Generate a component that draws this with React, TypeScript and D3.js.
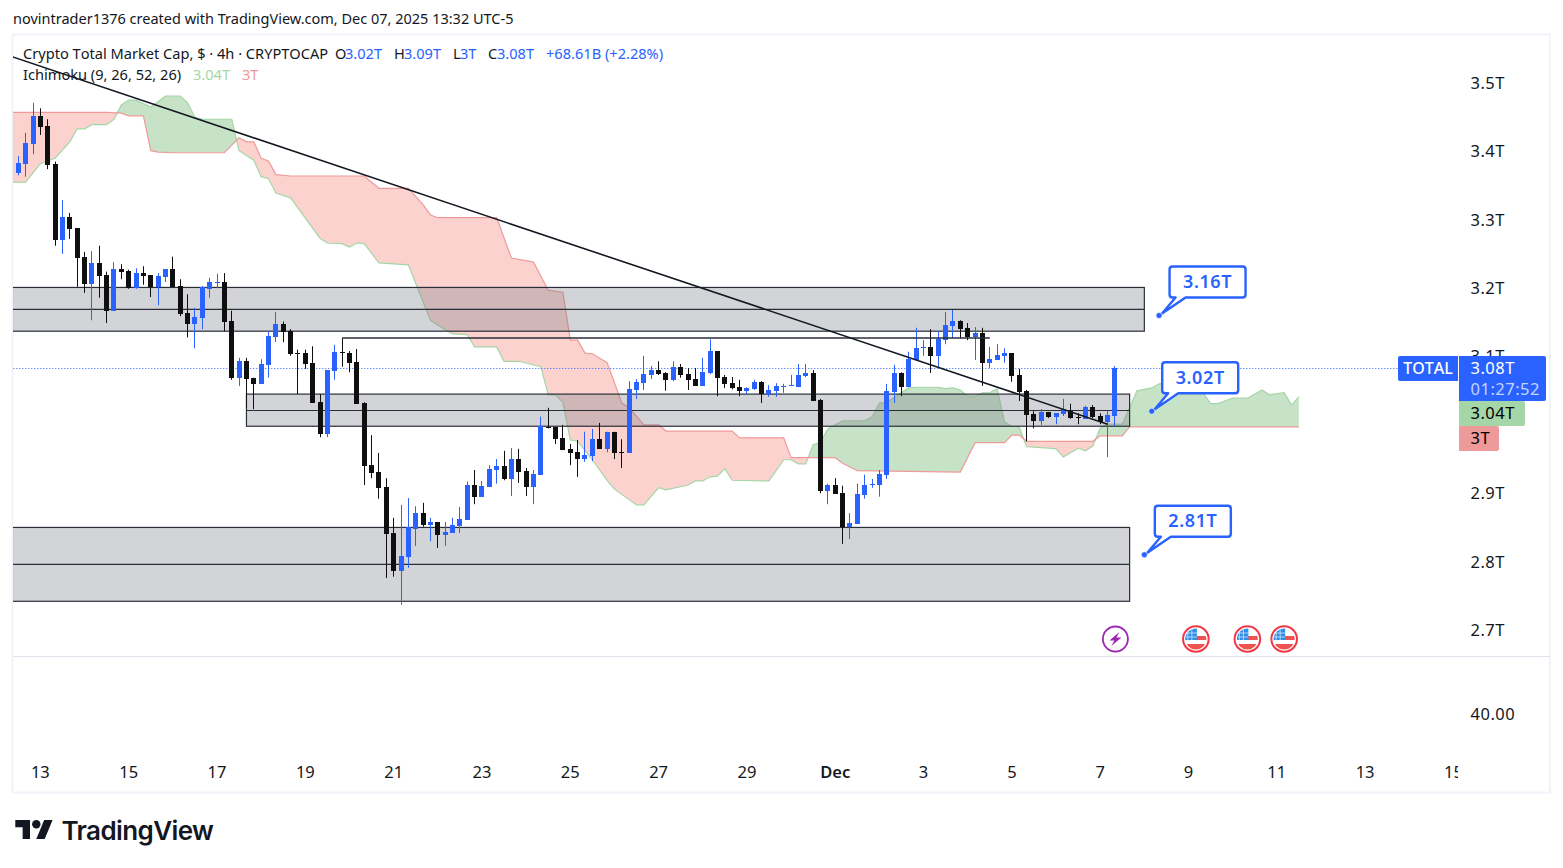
import { line as d3line, scaleLinear } from "d3";

const opens = [
  3.369, 3.382, 3.411, 3.452, 3.437, 3.382, 3.27, 3.304, 3.288, 3.246,
  3.206, 3.237, 3.219, 3.167, 3.228, 3.225, 3.2, 3.222, 3.219, 3.202,
  3.216, 3.228, 3.203, 3.164, 3.148, 3.156, 3.199, 3.208, 3.209, 3.152,
  3.069, 3.093, 3.069, 3.06, 3.088, 3.128, 3.148, 3.137, 3.105, 3.105,
  3.091, 3.033, 2.987, 3.079, 3.107, 3.105, 3.092, 3.032, 2.941, 2.931,
  2.909, 2.842, 2.786, 2.807, 2.848, 2.871, 2.854, 2.858, 2.839, 2.842,
  2.852, 2.861, 2.912, 2.895, 2.909, 2.934, 2.94, 2.921, 2.95, 2.933,
  2.909, 2.927, 2.997, 2.997, 2.981, 2.965, 2.96, 2.95, 2.954, 2.979,
  2.965, 2.99, 2.96, 2.959, 3.051, 3.061, 3.073, 3.08, 3.076, 3.066,
  3.085, 3.074, 3.067, 3.057, 3.076, 3.108, 3.07, 3.061, 3.055, 3.05,
  3.052, 3.063, 3.045, 3.05, 3.055, 3.057, 3.055, 3.072, 3.076, 3.036,
  2.903, 2.912, 2.9, 2.851, 2.855, 2.898, 2.912, 2.912, 2.927, 3.048,
  3.076, 3.055, 3.095, 3.112, 3.114, 3.101, 3.124, 3.145, 3.152, 3.142,
  3.128, 3.134, 3.091, 3.095, 3.101, 3.105, 3.073, 3.05, 3.016, 3.006,
  3.019, 3.012, 3.016, 3.02, 3.012, 3.009, 3.026, 3.013, 3.004, 3.013,
];
const closes = [
  3.383, 3.412, 3.452, 3.436, 3.38, 3.27, 3.304, 3.286, 3.244, 3.206,
  3.237, 3.218, 3.167, 3.228, 3.224, 3.2, 3.222, 3.218, 3.202, 3.218,
  3.228, 3.202, 3.162, 3.148, 3.158, 3.202, 3.209, 3.209, 3.151, 3.069,
  3.093, 3.067, 3.06, 3.089, 3.13, 3.148, 3.136, 3.104, 3.104, 3.089,
  3.032, 2.987, 3.08, 3.107, 3.105, 3.091, 3.031, 2.94, 2.93, 2.908,
  2.84, 2.786, 2.808, 2.851, 2.871, 2.854, 2.858, 2.839, 2.843, 2.854,
  2.862, 2.912, 2.895, 2.911, 2.935, 2.94, 2.921, 2.95, 2.931, 2.909,
  2.928, 2.998, 2.995, 2.979, 2.963, 2.959, 2.95, 2.956, 2.979, 2.965,
  2.99, 2.959, 2.959, 3.052, 3.063, 3.074, 3.08, 3.074, 3.066, 3.085,
  3.073, 3.066, 3.057, 3.077, 3.108, 3.069, 3.06, 3.054, 3.05, 3.054,
  3.063, 3.045, 3.051, 3.057, 3.057, 3.058, 3.073, 3.076, 3.035, 2.903,
  2.912, 2.899, 2.851, 2.856, 2.899, 2.912, 2.914, 2.928, 3.05, 3.076,
  3.055, 3.096, 3.112, 3.114, 3.101, 3.126, 3.146, 3.152, 3.14, 3.128,
  3.134, 3.091, 3.096, 3.102, 3.105, 3.072, 3.048, 3.014, 3.006, 3.019,
  3.012, 3.017, 3.023, 3.01, 3.01, 3.026, 3.012, 3.004, 3.014, 3.083,
];
const highs = [
  3.393, 3.427, 3.471, 3.463, 3.447, 3.385, 3.329, 3.31, 3.288, 3.253,
  3.254, 3.262, 3.224, 3.238, 3.235, 3.227, 3.229, 3.232, 3.219, 3.222,
  3.228, 3.246, 3.213, 3.191, 3.171, 3.203, 3.215, 3.221, 3.222, 3.167,
  3.098, 3.098, 3.069, 3.096, 3.137, 3.165, 3.151, 3.14, 3.11, 3.11,
  3.115, 3.045, 3.08, 3.117, 3.127, 3.108, 3.111, 3.033, 2.985, 2.959,
  2.922, 2.864, 2.883, 2.893, 2.881, 2.886, 2.864, 2.858, 2.858, 2.864,
  2.88, 2.917, 2.934, 2.918, 2.941, 2.95, 2.962, 2.966, 2.965, 2.937,
  2.934, 3.012, 3.025, 2.997, 3.0, 2.972, 2.978, 2.99, 2.994, 3.003,
  2.99, 2.99, 2.979, 3.064, 3.067, 3.101, 3.086, 3.093, 3.077, 3.093,
  3.089, 3.083, 3.083, 3.098, 3.125, 3.108, 3.073, 3.07, 3.066, 3.055,
  3.066, 3.064, 3.058, 3.061, 3.06, 3.073, 3.089, 3.089, 3.08, 3.038,
  2.914, 2.922, 2.911, 2.871, 2.914, 2.927, 2.921, 2.934, 3.06, 3.088,
  3.077, 3.107, 3.142, 3.124, 3.14, 3.137, 3.165, 3.168, 3.153, 3.149,
  3.143, 3.142, 3.114, 3.118, 3.112, 3.105, 3.082, 3.051, 3.02, 3.023,
  3.019, 3.017, 3.038, 3.031, 3.017, 3.028, 3.029, 3.017, 3.02, 3.086,
];
const lows = [
  3.365, 3.363, 3.396, 3.424, 3.374, 3.262, 3.25, 3.272, 3.202, 3.193,
  3.153, 3.186, 3.149, 3.167, 3.213, 3.199, 3.199, 3.205, 3.187, 3.175,
  3.209, 3.202, 3.159, 3.128, 3.112, 3.14, 3.186, 3.2, 3.137, 3.066,
  3.057, 3.025, 3.023, 3.06, 3.069, 3.121, 3.121, 3.101, 3.045, 3.082,
  3.032, 2.982, 2.982, 3.066, 3.085, 3.077, 3.031, 2.912, 2.922, 2.892,
  2.776, 2.778, 2.737, 2.791, 2.823, 2.851, 2.83, 2.82, 2.823, 2.842,
  2.842, 2.861, 2.884, 2.895, 2.909, 2.914, 2.919, 2.896, 2.915, 2.896,
  2.884, 2.927, 2.995, 2.972, 2.963, 2.941, 2.924, 2.946, 2.947, 2.965,
  2.96, 2.95, 2.937, 2.959, 3.038, 3.051, 3.067, 3.073, 3.05, 3.064,
  3.069, 3.051, 3.057, 3.057, 3.074, 3.042, 3.054, 3.052, 3.042, 3.045,
  3.051, 3.032, 3.041, 3.041, 3.047, 3.057, 3.055, 3.07, 3.035, 2.9,
  2.884, 2.899, 2.826, 2.833, 2.855, 2.892, 2.908, 2.895, 2.921, 3.032,
  3.042, 3.055, 3.095, 3.101, 3.076, 3.083, 3.118, 3.127, 3.127, 3.124,
  3.095, 3.057, 3.083, 3.095, 3.091, 3.063, 3.035, 2.976, 2.995, 3.0,
  3.01, 3.001, 3.013, 3.009, 3.001, 3.009, 3.01, 3.001, 2.953, 2.998,
];

// ichimoku spans, only the bars where the line changes direction
const leadABars = [
  -1, 1, 3, 5, 7, 8, 9, 10, 12, 13, 14, 15, 16, 18, 20, 22, 23, 24, 25, 29, 30, 32, 33, 34, 35, 37, 41, 42, 44, 45,
  46, 47, 49, 53, 56, 58, 59, 61, 62, 65, 66, 68, 71, 72, 73, 74, 75, 76, 78, 80, 81, 84, 85, 87, 88, 91, 92, 93,
  94, 95, 96, 97, 102, 104, 105, 106, 107, 108, 109, 110, 112, 115, 116, 117, 118, 121, 122, 125, 126, 127, 128,
  129, 130, 131, 132, 133, 134, 135, 136, 137, 140, 141, 142, 144, 145, 146, 147, 148, 150, 152, 154, 155, 157,
  160, 161, 162, 163, 165, 167, 169, 170, 172, 173, 174,
];
const leadA = [
  3.355, 3.355, 3.382, 3.39, 3.414, 3.433, 3.433, 3.439, 3.439, 3.447, 3.468, 3.475, 3.475, 3.465, 3.481, 3.481, 3.471, 3.45, 3.447, 3.447, 3.401, 3.387, 3.363, 3.36, 3.339, 3.332, 3.273, 3.266, 3.265, 3.26,
  3.266, 3.265, 3.237, 3.234, 3.153, 3.139, 3.133, 3.132, 3.114, 3.114, 3.093, 3.093, 3.085, 3.044, 3.044, 3.033, 2.978, 2.976, 2.949, 2.919, 2.906, 2.883, 2.883, 2.908, 2.905, 2.912, 2.918, 2.918,
  2.924, 2.925, 2.936, 2.919, 2.918, 2.949, 2.949, 2.943, 2.943, 2.971, 2.975, 2.994, 3.006, 3.006, 3.012, 3.032, 3.033, 3.054, 3.055, 3.055, 3.053, 3.054, 3.051,
  3.042, 3.042, 3.047, 3.047, 3.053, 3.004, 2.998, 2.997, 2.968, 2.966, 2.965, 2.953, 2.966, 2.962, 2.969, 2.995, 3.001, 3.001, 3.05, 3.054, 3.06, 3.063,
  3.048, 3.047, 3.031, 3.031, 3.039, 3.039, 3.051, 3.044, 3.047, 3.029, 3.041,
];
const leadBBars = [
  -1, 12, 14, 15, 17, 18, 19, 21, 28, 30, 31, 32, 33, 34, 35, 37, 47, 49, 53, 55, 56, 57, 65, 67, 70, 72, 74, 75, 76,
  77, 78, 80, 82, 83, 85, 87, 88, 97, 98, 104, 105, 111, 112, 114, 128, 130, 134, 135, 136, 137, 146, 147, 150, 151, 174,
];
const leadB = [
  3.457, 3.457, 3.456, 3.452, 3.452, 3.401, 3.399, 3.398, 3.398, 3.42, 3.414, 3.414, 3.39, 3.386, 3.366, 3.364, 3.364, 3.346, 3.346, 3.322, 3.307, 3.303, 3.303, 3.244, 3.238, 3.197, 3.194, 3.124, 3.124,
  3.105, 3.104, 3.091, 3.032, 3.025, 3.0, 3.0, 2.991, 2.991, 2.981, 2.981, 2.952, 2.952, 2.944, 2.933, 2.931, 2.974, 2.974, 2.985, 2.985, 2.976, 2.976, 2.984, 2.984, 2.997, 2.997,
];

// rectangles drawn on the chart: top, middle, bottom price and bar span
const zoneTops = [3.201, 3.045, 2.85];
const zoneMids = [3.169, 3.021, 2.796];
const zoneBottoms = [3.137, 2.998, 2.742];
const zoneStarts = [-5, 31, -5];
const zoneEnds = [153, 151, 151];

const trendBars = [-1, 148];
const trendValues = [3.539, 3.001];
const levelBars = [44, 132];
const levelValue = 3.127;
const lastClose = 3.083;

const calloutLabels = ["3.16T", "3.02T", "2.81T"];
const calloutValues = [3.16, 3.02, 2.81];
const calloutBars = [155, 154, 153];

const priceTicks = [3.5, 3.4, 3.3, 3.2, 3.1, 2.9, 2.8, 2.7];
const priceTickLabels = ["3.5T", "3.4T", "3.3T", "3.2T", "3.1T", "2.9T", "2.8T", "2.7T"];
const dateTickBars = [3, 15, 27, 39, 51, 63, 75, 87, 99, 111, 123, 135, 147, 159, 171, 183, 195];
const dateTickLabels = ["13", "15", "17", "19", "21", "23", "25", "27", "29", "Dec", "3", "5", "7", "9", "11", "13", "15"];
const flagBars = [160, 167, 172];
const boltBar = 149;

const FONT = "'Noto Sans', sans-serif";
const BLUE = "#2962ff";
const INK = "#131722";
const CANDLE_DOWN = "#0f0f0f";
const LINE = "#2a2e39";

const x = scaleLinear().domain([0, 149]).range([18.3, 1114.9]);
const y = scaleLinear().domain([2.7, 3.5]).range([630, 83]);
const line = d3line();

function Candles() {
  return (
    <g>
      {opens.map((open, i) => {
        const c = Math.floor(x(i));
        const up = closes[i] >= open;
        const top = Math.round(y(Math.max(open, closes[i])));
        const bottom = Math.round(y(Math.min(open, closes[i])));
        const color = up ? BLUE : CANDLE_DOWN;
        return (
          <g key={i} fill={color}>
            <rect x={c} width={1} y={y(highs[i])} height={y(lows[i]) - y(highs[i])} />
            <rect x={c - 2} width={5} y={top} height={Math.max(bottom - top, 1)} />
          </g>
        );
      })}
    </g>
  );
}

function Cloud() {
  const a = leadABars.map((b, i) => [x(b), y(leadA[i])] as [number, number]);
  const b = leadBBars.map((bar, i) => [x(bar), y(leadB[i])] as [number, number]);
  const left = x(-1);
  const right = x(174);
  const between = line([...a, ...[...b].reverse()]) + "Z";
  const above = line([...b, [right, 0], [left, 0]]) + "Z";
  const below = line([...b, [right, 868], [left, 868]]) + "Z";
  return (
    <g>
      <defs>
        <clipPath id="aboveB">
          <path d={above} />
        </clipPath>
        <clipPath id="belowB">
          <path d={below} />
        </clipPath>
      </defs>
      <path d={between} fill="rgb(67,160,71)" fillOpacity={0.3} clipPath="url(#aboveB)" />
      <path d={between} fill="rgb(244,67,54)" fillOpacity={0.24} clipPath="url(#belowB)" />
      <path d={line(a) ?? undefined} fill="none" stroke="#a5d6a7" strokeWidth={1.2} />
      <path d={line(b) ?? undefined} fill="none" stroke="#ef9a9a" strokeWidth={1.2} />
    </g>
  );
}

function Zones() {
  return (
    <g>
      {zoneTops.map((top, i) => {
        const x0 = x(zoneStarts[i]);
        const x1 = x(zoneEnds[i]);
        return (
          <g key={i}>
            <rect x={x0} y={y(top)} width={x1 - x0} height={y(zoneBottoms[i]) - y(top)} fill="#787b86" fillOpacity={0.33} stroke={LINE} strokeWidth={1.2} />
            <line x1={x0} x2={x1} y1={y(zoneMids[i])} y2={y(zoneMids[i])} stroke={LINE} strokeWidth={1.2} />
          </g>
        );
      })}
    </g>
  );
}

function Callout({ label, px, py }: { label: string; px: number; py: number }) {
  const left = px + 10.5;
  const top = py - 49;
  const w = 76;
  const h = 31;
  const r = 3;
  // box outline with the tail running down to the anchor dot
  const d = `M${left + r} ${top} H${left + w - r} Q${left + w} ${top} ${left + w} ${top + r} V${top + h - r} Q${left + w} ${top + h} ${left + w - r} ${top + h} H${left + 16} L${px + 3} ${py - 2} L${left + 6} ${top + h} H${left + r} Q${left} ${top + h} ${left} ${top + h - r} V${top + r} Q${left} ${top} ${left + r} ${top} Z`;
  return (
    <g>
      <path d={d} fill="#fff" stroke={BLUE} strokeWidth={2.4} strokeLinejoin="round" />
      <circle cx={px} cy={py} r={3} fill={BLUE} stroke="#fff" strokeWidth={0.6} />
      <text x={left + w / 2} y={top + 21.5} textAnchor="middle" fontSize={18} fontWeight={600} fill={BLUE} fontFamily={FONT} letterSpacing={0.6} style={{ fontKerning: "none" }}>
        {label}
      </text>
    </g>
  );
}

function FlagIcon({ cx, id }: { cx: number; id: string }) {
  const cy = 639;
  return (
    <g>
      <clipPath id={id}>
        <circle cx={cx} cy={cy} r={10.5} />
      </clipPath>
      <circle cx={cx} cy={cy} r={12.8} fill="#fff" stroke="#f23645" strokeWidth={2} />
      <g clipPath={`url(#${id})`}>
        <rect x={cx - 11} y={cy - 11} width={22} height={22} fill="#fff" />
        <rect x={cx - 11} y={cy - 3} width={22} height={4} fill="#ef5350" />
        <rect x={cx - 11} y={cy + 5} width={22} height={6} fill="#ef5350" />
        <rect x={cx - 11} y={cy - 11} width={12} height={12} fill="#2f8fe8" />
        <path d={`M${cx - 8} ${cy - 11}V${cy + 1}M${cx - 4} ${cy - 11}V${cy + 1}M${cx - 11} ${cy - 6}H${cx + 1}M${cx - 11} ${cy - 2}H${cx + 1}`} stroke="#cfe6fb" strokeWidth={0.8} />
      </g>
    </g>
  );
}

function BoltIcon({ cx }: { cx: number }) {
  const cy = 639;
  return (
    <g>
      <circle cx={cx + 0.5} cy={cy} r={12.5} fill="#fff" stroke="#9c27b0" strokeWidth={1.8} />
      <path d={`M${cx + 4.5} ${cy - 7}L${cx - 5.5} ${cy + 1.5}H${cx - 0.5}L${cx - 3.5} ${cy + 7}L${cx + 6.5} ${cy - 1.5}H${cx + 1.5}Z`} fill="#9c27b0" />
    </g>
  );
}

function Legend() {
  const t = { fontFamily: FONT, fontSize: 14.6, style: { fontKerning: "none" as const } };
  return (
    <g {...t} fill={INK}>
      <text x={23} y={59}>Crypto Total Market Cap, $ · 4h · CRYPTOCAP</text>
      <text x={335} y={59}>O</text>
      <text x={345} y={59} fill={BLUE}>3.02T</text>
      <text x={394} y={59}>H</text>
      <text x={404} y={59} fill={BLUE}>3.09T</text>
      <text x={453} y={59}>L</text>
      <text x={460} y={59} fill={BLUE}>3T</text>
      <text x={488} y={59}>C</text>
      <text x={497} y={59} fill={BLUE}>3.08T</text>
      <text x={546} y={59} fill={BLUE}>+68.61B (+2.28%)</text>
      <text x={23} y={80}>Ichimoku (9, 26, 52, 26)</text>
      <text x={193} y={80} fill="#a5d6a7">3.04T</text>
      <text x={242} y={80} fill="#ef9a9a">3T</text>
    </g>
  );
}

function PriceAxis() {
  const labelX = 1470.5;
  const axisFont = { fontFamily: FONT, fontSize: 16.5, letterSpacing: 0.5, style: { fontKerning: "none" as const } };
  return (
    <g {...axisFont}>
      {priceTicks.map((v, i) => (
        <text key={v} x={labelX} y={y(v)} dy="0.36em" fill={INK}>
          {priceTickLabels[i]}
        </text>
      ))}
      <text x={labelX} y={714} dy="0.36em" fill={INK}>40.00</text>
      <path d="M1400 356H1458V381H1400Q1398 381 1398 379V358Q1398 356 1400 356Z" fill={BLUE} />
      <text x={1428} y={368.5} dy="0.36em" textAnchor="middle" fill="#fff" fontSize={16} letterSpacing={0} fontWeight={500}>TOTAL</text>
      <path d="M1459 356H1544Q1546 356 1546 358V399Q1546 401 1544 401H1459Z" fill={BLUE} />
      <text x={labelX} y={368.5} dy="0.36em" fill="#fff">3.08T</text>
      <text x={labelX} y={389.5} dy="0.36em" fill="#c4d4ff">01:27:52</text>
      <path d="M1459 401H1523Q1525 401 1525 403V424Q1525 426 1523 426H1459Z" fill="#a5d6a7" />
      <text x={labelX} y={413.5} dy="0.36em" fill="#000">3.04T</text>
      <path d="M1459 426H1497Q1499 426 1499 428V449Q1499 451 1497 451H1459Z" fill="#ef9a9a" />
      <text x={labelX} y={438.5} dy="0.36em" fill="#000">3T</text>
    </g>
  );
}

export default function App() {
  const lastY = Math.round(y(lastClose)) + 0.5;
  return (
    <svg width={1563} height={868} style={{ position: "absolute", left: 0, top: 0, display: "block", background: "#fff" }}>
      <defs>
        <clipPath id="pane">
          <rect x={13} y={35} width={1445} height={621} />
        </clipPath>
        <clipPath id="timeAxis">
          <rect x={13} y={750} width={1445} height={40} />
        </clipPath>
      </defs>

      <text x={13} y={24} fontFamily={FONT} fontSize={14.5} fill={INK}>
        novintrader1376 created with TradingView.com, Dec 07, 2025 13:32 UTC-5
      </text>

      <rect x={12.5} y={34.5} width={1537.5} height={758} fill="none" stroke="#f0f3fa" strokeWidth={2} />
      <line x1={13} x2={1550} y1={656.5} y2={656.5} stroke="#e0e3eb" />

      <g clipPath="url(#pane)">
        <Cloud />
        <Zones />
        <line x1={x(0) - 5} x2={1398} y1={lastY} y2={lastY} stroke={BLUE} strokeDasharray="1 2" />
        <Candles />
        <line x1={x(levelBars[0])} x2={x(levelBars[1])} y1={y(levelValue)} y2={y(levelValue)} stroke={LINE} strokeWidth={1.6} />
        <line x1={x(trendBars[0])} x2={x(trendBars[1])} y1={y(trendValues[0])} y2={y(trendValues[1])} stroke="#131722" strokeWidth={1.6} />
      </g>

      <Legend />
      <PriceAxis />

      {calloutLabels.map((label, i) => (
        <Callout key={label} label={label} px={x(calloutBars[i])} py={y(calloutValues[i])} />
      ))}

      <BoltIcon cx={x(boltBar)} />
      {flagBars.map((b) => (
        <FlagIcon key={b} cx={x(b)} id={`flag${b}`} />
      ))}

      <g clipPath="url(#timeAxis)" fontFamily={FONT} fontSize={16.5} fill={INK} textAnchor="middle">
        {dateTickBars.map((b, i) => (
          <text key={b} x={x(b)} y={778} fontWeight={dateTickLabels[i] === "Dec" ? 600 : 400}>
            {dateTickLabels[i]}
          </text>
        ))}
      </g>

      <g transform="translate(15.3 815.8) scale(1.05)" fill="#131722">
        <path d="M14 22H7V11H0V4h14v18zM28 22h-8l7.5-18h8L28 22z" />
        <circle cx={20} cy={8} r={4} />
      </g>
      <text x={61.5} y={839.5} fontFamily="Inter, sans-serif" fontSize={26} fontWeight={600} fill="#131722" letterSpacing={-0.6}>
        TradingView
      </text>
    </svg>
  );
}
